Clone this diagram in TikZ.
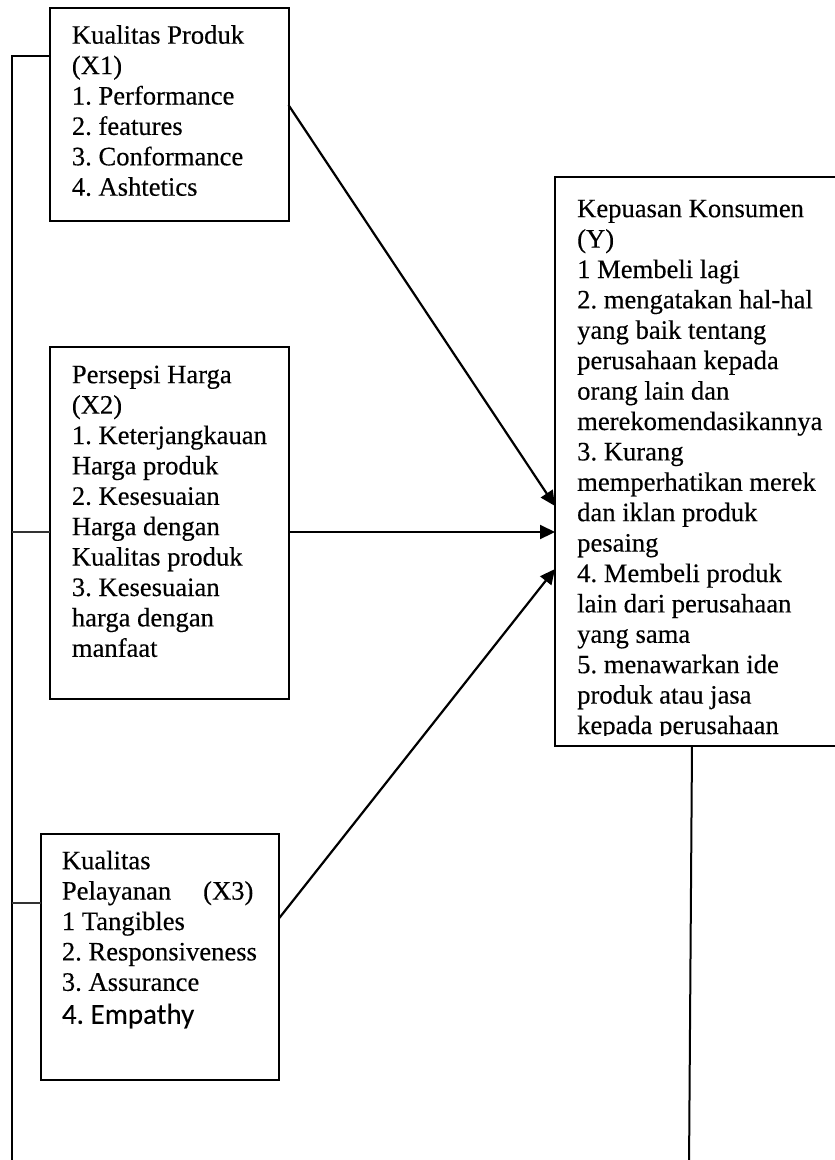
\documentclass[tikz,border=0pt]{standalone}
\usepackage{fontspec}
\setmainfont{Liberation Serif}[FakeBold=0.3]
\newfontfamily\calibfont{Carlito}[FakeBold=0.2]
\usetikzlibrary{arrows.meta}
\newcommand\mystrutA{\spaceskip=0.25em\relax\rule{0pt}{20pt}}
\tikzset{
  box/.style={draw, line width=2pt, anchor=north west, inner sep=0pt, outer sep=0pt},
  txt/.style={anchor=north west, inner sep=0pt, align=left, text width=#1,
    font=\fontsize{26.6}{30.4}\selectfont},
  arr/.style={line width=2.2pt, -{Triangle[length=15pt,width=14pt]}},
  bus/.style={line width=2pt},
  thin/.style={line width=1.4pt, black!80},
}
\begin{document}
\frenchspacing
\begin{tikzpicture}[x=1pt,y=1pt]
\useasboundingbox (0,0) rectangle (835,-1160);
\fill[white] (0,0) rectangle (835,-1160);
\clip (0,0) rectangle (835,-1160);

% boxes
\node[box, minimum width=238.5pt, minimum height=213pt] (x1) at (50,-8) {};
\node[box, minimum width=238.5pt, minimum height=352pt] (x2) at (50,-347) {};
\node[box, minimum width=238.3pt, minimum height=246pt] (x3) at (41,-834) {};
\node[box, minimum width=290pt, minimum height=569pt] (y) at (555,-177) {};

% texts
\node[txt=230pt] (t1) at (71.7,-23.5) {\mystrutA Kualitas Produk\\(X1)\\1. Performance\\2. features\\3. Conformance\\4. Ashtetics};
\node[txt=230pt] (t2) at (71.7,-363) {\mystrutA Persepsi Harga\\(X2)\\1. Keterjangkauan\\Harga produk\\2. Kesesuaian\\Harga dengan\\Kualitas produk\\3. Kesesuaian\\harga dengan\\manfaat};
\node[txt=230pt] (t3) at (61.7,-849) {\mystrutA Kualitas\\\makebox[191.5pt][l]{Pelayanan\hfill(X3)}\\1 Tangibles\\2. Responsiveness\\3. Assurance\\[2.6pt]{\calibfont\fontsize{29}{30.4}\selectfont 4. Empathy}};
\begin{scope}
\clip (556,-178) rectangle (835,-735);
\node[txt=300pt] (ty) at (577,-197) {\mystrutA Kepuasan Konsumen\\(Y)\\1 Membeli lagi\\2. mengatakan hal-hal\\yang baik tentang\\perusahaan kepada\\orang lain dan\\merekomendasikannya\\3. Kurang\\memperhatikan merek\\dan iklan produk\\pesaing\\4. Membeli produk\\lain dari perusahaan\\yang sama\\5. menawarkan ide\\produk atau jasa\\kepada perusahaan};
\end{scope}

% arrows to Y
\draw[arr] ([yshift=9.5pt]x1.east) -- ([yshift=-44.5pt]y.west);
\draw[arr] ([yshift=-9pt]x2.east) -- ([yshift=-70.5pt]y.west);
\draw[arr] ([yshift=39pt]x3.east) -- ([yshift=-107.5pt]y.west);

% left bus
\coordinate (bt) at (12,-56);
\coordinate (bb) at (12,-1170);
\coordinate (c2) at ([yshift=-9pt]x2.west);
\coordinate (c3) at ([yshift=54pt]x3.west);
\draw[bus] ([yshift=58.5pt]x1.west) -- (bt) -- (bb);
\draw[thin] (c2) -- (bt |- c2);
\draw[thin] (c3) -- (bt |- c3);

% right line
\coordinate (rb) at (689,-1170);
\draw[line width=2pt] ([xshift=-8pt]y.south) -- (rb);
\end{tikzpicture}
\end{document}
